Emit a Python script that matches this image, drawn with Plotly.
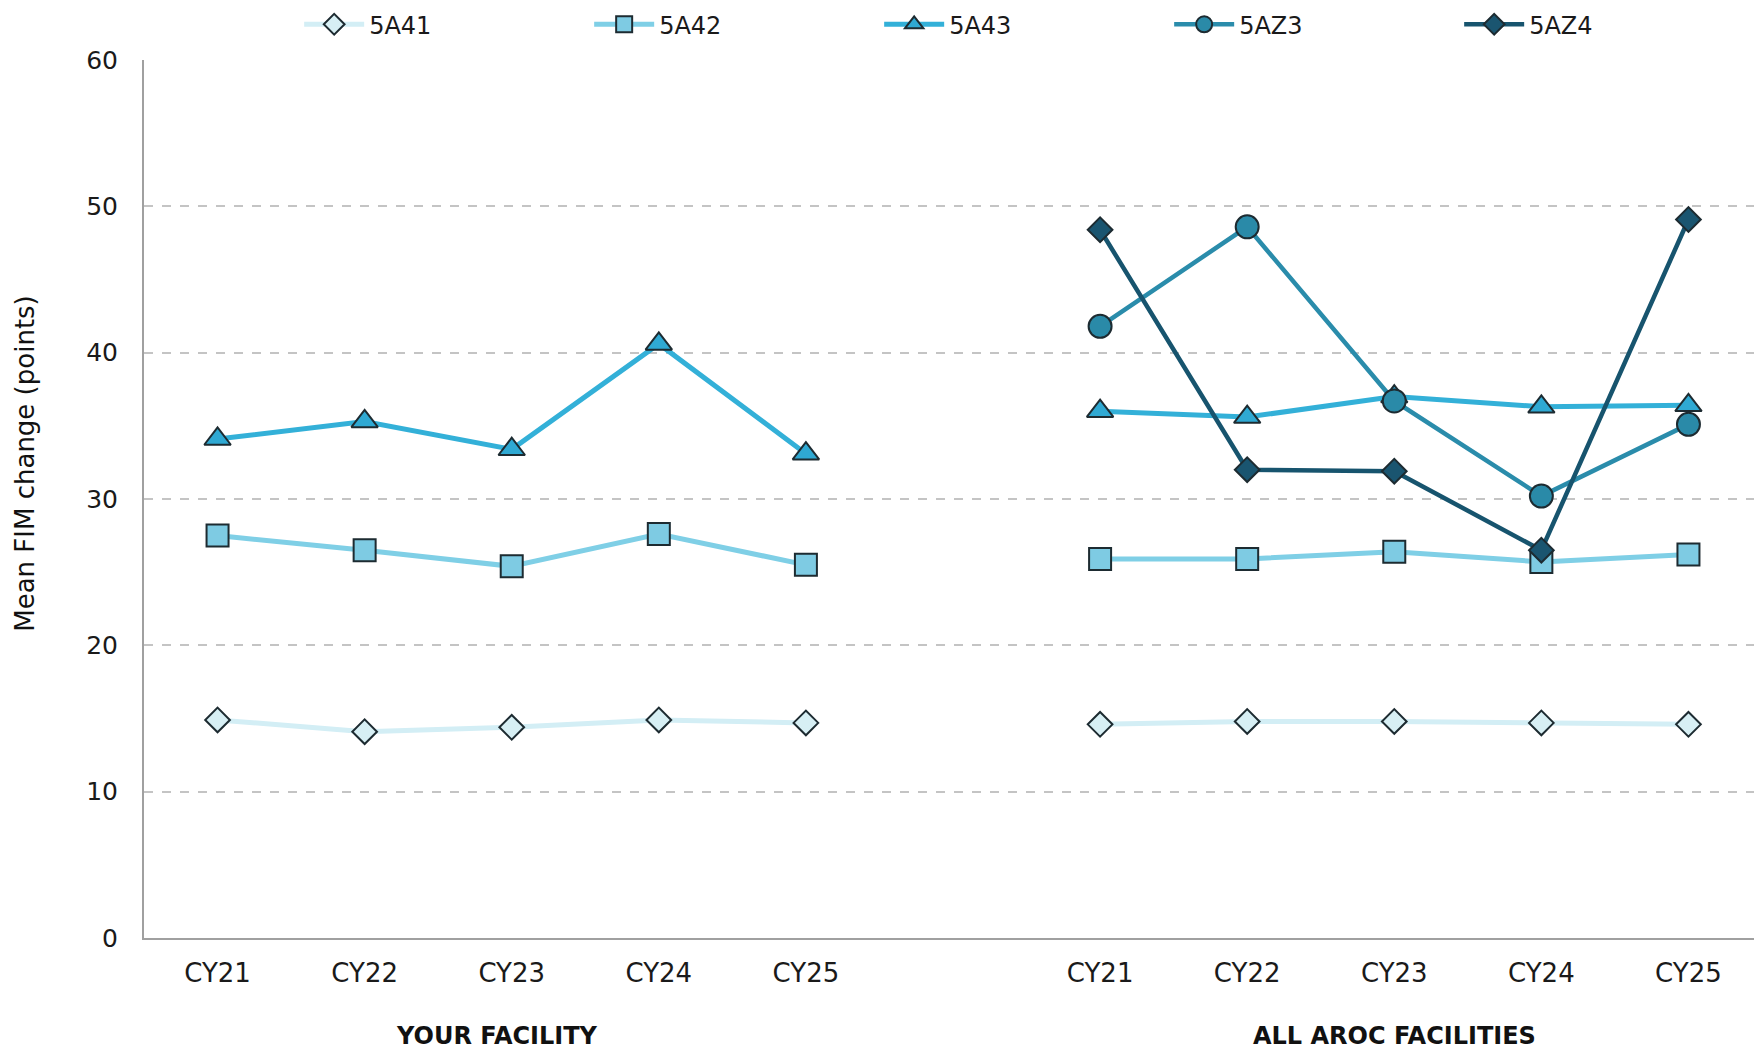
import plotly.graph_objects as go

years = ["CY21", "CY22", "CY23", "CY24", "CY25"]
groups = ["YOUR FACILITY", "ALL AROC FACILITIES"]
series_names = ["5A41", "5A42", "5A43", "5AZ3", "5AZ4"]

# values: your facility
yf_5A41 = [14.9, 14.1, 14.4, 14.9, 14.7]
yf_5A42 = [27.5, 26.5, 25.4, 27.6, 25.5]
yf_5A43 = [34.1, 35.3, 33.4, 40.6, 33.1]
yf_5AZ3 = [None, None, None, None, None]
yf_5AZ4 = [None, None, None, None, None]
# values: all AROC facilities
all_5A41 = [14.6, 14.8, 14.8, 14.7, 14.6]
all_5A42 = [25.9, 25.9, 26.4, 25.7, 26.2]
all_5A43 = [36.0, 35.6, 37.0, 36.3, 36.4]
all_5AZ3 = [41.8, 48.6, 36.7, 30.2, 35.1]
all_5AZ4 = [48.4, 32.0, 31.9, 26.5, 49.1]

yf = [yf_5A41, yf_5A42, yf_5A43, yf_5AZ3, yf_5AZ4]
allf = [all_5A41, all_5A42, all_5A43, all_5AZ3, all_5AZ4]

line_colors = ["#d3eef5", "#7fcfe6", "#33b0d8", "#2a8cab", "#17546e"]
fill_colors = ["#d7eff4", "#7ecbe3", "#2fa9d3", "#2a8aa8", "#1a5570"]
symbols = ["diamond", "square", "triangle-up", "circle", "diamond"]
sizes = [19, 22, 23, 23, 19]
widths = [5, 5, 5, 4.5, 4.5]

n = len(years)
gap = 1
x_left = list(range(n))
x_right = [n + gap + i for i in range(n)]
xs = x_left + [None] + x_right

FONT = "DejaVu Sans"
W, H = 1754, 1043  # page body has an 8px margin
fig = go.Figure()
for k, name in enumerate(series_names):
    ys = yf[k] + [None] + allf[k]
    fig.add_trace(go.Scatter(
        x=xs, y=ys, name=name, mode="lines+markers",
        connectgaps=False,
        line=dict(color=line_colors[k], width=widths[k]),
        marker=dict(symbol=symbols[k], size=sizes[k], color=fill_colors[k],
                    line=dict(color="#1d2b31", width=2)),
    ))

fig.update_layout(
    width=W, height=H,
    paper_bgcolor="white", plot_bgcolor="white",
    margin=dict(l=136, r=0, t=52, b=113, autoexpand=False),
    font=dict(family=FONT, size=24, color="#1a1a1a"),
    legend=dict(orientation="h", xref="container", yref="container",
                x=0.166, xanchor="left", y=0.984, yanchor="middle",
                entrywidth=215, entrywidthmode="pixels", itemwidth=60,
                font=dict(size=24, family=FONT, color="#1a1a1a"),
                bgcolor="rgba(0,0,0,0)", tracegroupgap=0),
    showlegend=True,
)
fig.update_xaxes(
    range=[-0.5, 2 * n + gap - 0.5],
    tickmode="array", tickvals=x_left + x_right, ticktext=years + years,
    showgrid=False, zeroline=False,
    showline=True, linecolor="#a0a0a0", linewidth=2,
    ticks="", ticklabelstandoff=11,
    tickfont=dict(size=26, family=FONT, color="#1a1a1a"),
)
fig.update_yaxes(
    range=[0, 60], dtick=10,
    showgrid=True, gridcolor="#c4c4c4", griddash="dash", gridwidth=1.5,
    zeroline=False, showline=True, linecolor="#a0a0a0", linewidth=2,
    ticks="", ticklabelstandoff=19,
    tickfont=dict(size=25, family=FONT, color="#1a1a1a"),
)
# y-axis title placed as rotated annotation (sits slightly above centre in the reference)
fig.add_annotation(x=-0.0737, xref="paper", y=0.541, yref="paper",
                   text="Mean FIM change (points)", textangle=-90, showarrow=False,
                   xanchor="center", yanchor="middle",
                   font=dict(size=26, family=FONT, color="#111"))
centers = [sum(x_left) / n - 0.10, sum(x_right) / n]
for g, cx in zip(groups, centers):
    fig.add_annotation(x=cx, xref="x", y=-0.112, yref="paper", text=g,
                       showarrow=False, yanchor="middle",
                       font=dict(size=24, family=FONT, color="#111", weight="bold"))

fig.write_html("out.html")
